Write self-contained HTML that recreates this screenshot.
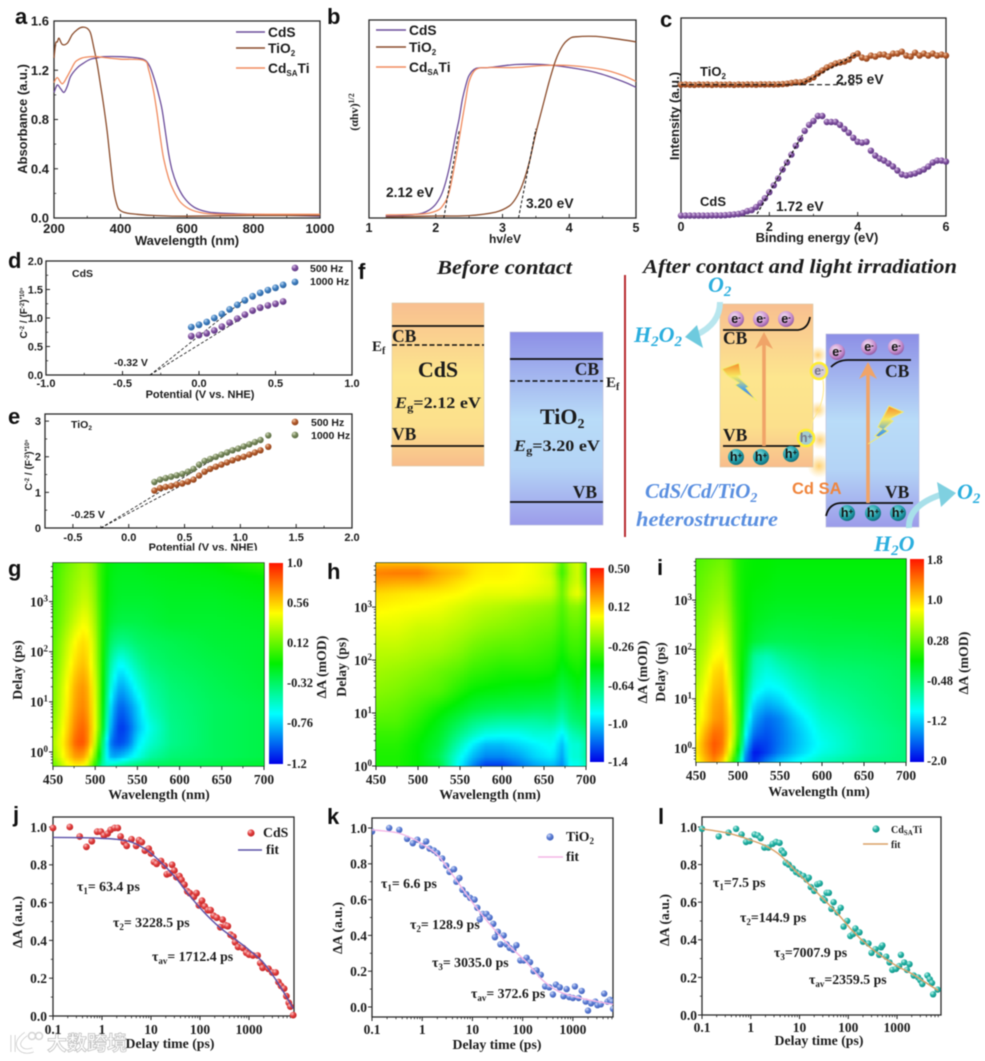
<!DOCTYPE html>
<html lang="en"><head><meta charset="utf-8"><title>Photocatalyst characterization figure</title>
<style>
html,body{margin:0;padding:0;background:#fff}
svg{display:block;filter:blur(.4px)}
text{fill:#1c1c1c}
.ss{font-family:"Liberation Sans",sans-serif;font-weight:700}
.sf{font-family:"Liberation Serif",serif;font-weight:700}
.pl{font-family:"Liberation Sans",sans-serif;font-weight:700;font-size:22px;fill:#111}
.t12{font-size:12px}.t13{font-size:13px}.sf.t13{font-size:13.8px}.t10{font-size:10px}.t9{font-size:10.5px}.t14{font-size:13.8px}
.wm{font-family:"Liberation Sans","Noto Sans CJK SC",sans-serif;font-size:20px;font-weight:700;fill:#fff;stroke:#b5b5b5;stroke-width:.8}
.it{font-family:"Liberation Serif",serif;font-weight:700;font-style:italic}
.blue{fill:#2aaede}
.ball{font-family:"Liberation Sans",sans-serif;font-weight:700;font-size:12.5px;fill:#111}
</style></head><body>
<svg id="fig" xmlns="http://www.w3.org/2000/svg" width="985" height="1061" viewBox="0 0 985 1061">
<defs>
<radialGradient id="sPurple" cx=".35" cy=".3" r=".8"><stop offset="0" stop-color="#d9c3e8"/><stop offset=".45" stop-color="#7f4f9e"/><stop offset="1" stop-color="#53307a"/></radialGradient>
<radialGradient id="sBlue" cx=".35" cy=".3" r=".8"><stop offset="0" stop-color="#bcd8f2"/><stop offset=".45" stop-color="#3f7fc0"/><stop offset="1" stop-color="#245a96"/></radialGradient>
<radialGradient id="sBrown" cx=".35" cy=".3" r=".8"><stop offset="0" stop-color="#f0c8a8"/><stop offset=".45" stop-color="#b4592a"/><stop offset="1" stop-color="#843d18"/></radialGradient>
<radialGradient id="sOlive" cx=".35" cy=".3" r=".8"><stop offset="0" stop-color="#d8e0c4"/><stop offset=".45" stop-color="#76875a"/><stop offset="1" stop-color="#52633c"/></radialGradient>
<radialGradient id="sRed" cx=".35" cy=".3" r=".8"><stop offset="0" stop-color="#f8c4c4"/><stop offset=".45" stop-color="#e23c3c"/><stop offset="1" stop-color="#b82222"/></radialGradient>
<radialGradient id="sIndigo" cx=".35" cy=".3" r=".8"><stop offset="0" stop-color="#d0daf6"/><stop offset=".45" stop-color="#5d7fd6"/><stop offset="1" stop-color="#3b59b2"/></radialGradient>
<radialGradient id="sTeal" cx=".35" cy=".3" r=".8"><stop offset="0" stop-color="#c4f2ea"/><stop offset=".45" stop-color="#22b3a5"/><stop offset="1" stop-color="#0f8a80"/></radialGradient>
<radialGradient id="eBall" cx=".4" cy=".35" r=".75"><stop offset="0" stop-color="#f6e6f6"/><stop offset=".6" stop-color="#c88fce"/><stop offset="1" stop-color="#7c4490"/></radialGradient>
<radialGradient id="hBall" cx=".4" cy=".35" r=".75"><stop offset="0" stop-color="#7fe0e0"/><stop offset=".6" stop-color="#1f9aa6"/><stop offset="1" stop-color="#0b5a68"/></radialGradient>
<radialGradient id="glow" cx=".5" cy=".5" r=".5"><stop offset="0" stop-color="#ffcf70"/><stop offset="1" stop-color="#ffdf90" stop-opacity="0"/></radialGradient>
<linearGradient id="cdsFill" x1="0" y1="0" x2="0" y2="1"><stop offset="0" stop-color="#f8bf90"/><stop offset=".45" stop-color="#fde68e"/><stop offset=".75" stop-color="#fce08c"/><stop offset="1" stop-color="#f8bd8c"/></linearGradient>
<linearGradient id="tioFill" x1="0" y1="0" x2="0" y2="1"><stop offset="0" stop-color="#8d8fe6"/><stop offset=".45" stop-color="#b9dcf8"/><stop offset=".7" stop-color="#b4d4f6"/><stop offset="1" stop-color="#9c9cea"/></linearGradient>
<linearGradient id="bolt" x1="0" y1="0" x2="0" y2="1"><stop offset="0" stop-color="#f58a2a"/><stop offset=".35" stop-color="#f8e860"/><stop offset=".7" stop-color="#4aa0e8"/><stop offset="1" stop-color="#7a60c8"/></linearGradient>
<linearGradient id="cbar" x1="0" y1="1" x2="0" y2="0"><stop offset="0" stop-color="#0000e8"/><stop offset=".25" stop-color="#00ffff"/><stop offset=".5" stop-color="#00f000"/><stop offset=".75" stop-color="#ffff00"/><stop offset="1" stop-color="#ff1500"/></linearGradient>
<filter id="heatBlur" filterUnits="userSpaceOnUse" x="0" y="540" width="985" height="250" color-interpolation-filters="sRGB"><feGaussianBlur stdDeviation="1.2 .8"/></filter>
<clipPath id="clipG"><rect x="53" y="563" width="211" height="203"/></clipPath>
<clipPath id="clipH"><rect x="376" y="563" width="210" height="203"/></clipPath>
<clipPath id="clipI"><rect x="696" y="559" width="210" height="203"/></clipPath>
<clipPath id="clipK"><rect x="372" y="818" width="241" height="199"/></clipPath>
</defs>

<!-- panel letters -->
<text class="pl" x="15" y="24">a</text>
<text class="pl" x="327" y="24">b</text>
<text class="pl" x="660" y="27">c</text>
<text class="pl" x="8" y="268">d</text>
<text class="pl" x="8" y="424">e</text>
<text class="pl" x="358" y="279">f</text>
<text class="pl" x="8" y="576">g</text>
<text class="pl" x="327" y="579">h</text>
<text class="pl" x="657" y="575">i</text>
<text class="pl" x="13" y="822">j</text>
<text class="pl" x="327" y="824">k</text>
<text class="pl" x="658" y="824">l</text>

<g opacity=".85">
<text class="wm" x="47" y="1050">大数跨境</text>
<path d="M13 1035V1052M26 1034Q15 1042 20 1048Q24 1053 33 1050" fill="none" stroke="#bbb" stroke-width="5"/>
<path d="M13 1035V1052M26 1034Q15 1042 20 1048Q24 1053 33 1050" fill="none" stroke="#fff" stroke-width="3.6"/>
<circle cx="32" cy="1036" r="3.5" fill="none" stroke="#ccc" stroke-width="1.5"/>
<circle cx="39" cy="1036" r="3.5" fill="none" stroke="#ccc" stroke-width="1.5"/>
</g>

<!-- axis titles a-c -->
<text class="ss t13" x="187" y="245" text-anchor="middle">Wavelength (nm)</text>
<text class="ss t13" transform="translate(27,119) rotate(-90)" text-anchor="middle">Absorbance (a.u.)</text>
<text class="ss t12" x="505" y="243" text-anchor="middle">hv/eV</text>
<text class="sf t12" transform="translate(358,112) rotate(-90)" text-anchor="middle">(αhv)<tspan dy="-4" font-size="8">1/2</tspan></text>
<text class="ss t13" x="817" y="242" text-anchor="middle">Binding energy (eV)</text>
<text class="ss t13" transform="translate(679,116) rotate(-90)" text-anchor="middle">Intensity (a.u.)</text>

<!-- annotations a-c -->
<g>
<line x1="236" x2="265" y1="32" y2="32" stroke="#6b4c9a" stroke-width="1.5"/>
<line x1="236" x2="265" y1="48" y2="48" stroke="#8a4b2a" stroke-width="1.5"/>
<line x1="236" x2="265" y1="68" y2="68" stroke="#f08a5d" stroke-width="1.5"/>
<text class="ss t14" x="268" y="37">CdS</text>
<text class="ss t14" x="268" y="53">TiO<tspan font-size="8" dy="3">2</tspan></text>
<text class="ss t14" x="268" y="73">Cd<tspan font-size="8" dy="3">SA</tspan><tspan dy="-3">Ti</tspan></text>
</g>
<g>
<line x1="376" x2="406" y1="30" y2="30" stroke="#6b4c9a" stroke-width="1.5"/>
<line x1="376" x2="406" y1="47" y2="47" stroke="#8a4b2a" stroke-width="1.5"/>
<line x1="376" x2="406" y1="67" y2="67" stroke="#f08a5d" stroke-width="1.5"/>
<text class="ss t14" x="409" y="35">CdS</text>
<text class="ss t14" x="409" y="52">TiO<tspan font-size="8" dy="3">2</tspan></text>
<text class="ss t14" x="409" y="72">Cd<tspan font-size="8" dy="3">SA</tspan><tspan dy="-3">Ti</tspan></text>
</g>
<text class="ss t14" x="386" y="197">2.12 eV</text>
<text class="ss t14" x="526" y="208">3.20 eV</text>
<text class="ss t13" x="700" y="76">TiO<tspan font-size="8" dy="3">2</tspan></text>
<text class="ss t14" x="836" y="84">2.85 eV</text>
<text class="ss t13" x="700" y="206">CdS</text>
<text class="ss t14" x="776" y="211">1.72 eV</text>

<!-- d / e titles and labels -->
<text class="ss t10" x="200" y="398" style="font-size:11px" text-anchor="middle">Potential (V vs. NHE)</text>
<text class="ss" font-size="10" transform="translate(27,313) rotate(-90)" text-anchor="middle">C<tspan font-size="6" dy="-3">-2</tspan><tspan dy="3"> / (F</tspan><tspan font-size="6" dy="-3">-2</tspan><tspan dy="3">)</tspan><tspan font-size="6" dy="-3">*10⁹</tspan></text>
<text class="ss t9" x="72" y="277">CdS</text>
<text class="ss t9" x="310" y="272">500 Hz</text>
<text class="ss t9" x="310" y="285">1000 Hz</text>
<text class="ss t10" x="114" y="366" style="font-size:10.5px">-0.32 V</text>
<text class="ss t10" x="203" y="551" style="font-size:11px" text-anchor="middle">Potential (V vs. NHE)</text>
<rect x="140" y="550.5" width="130" height="6" fill="#fff"/>
<text class="ss" font-size="10" transform="translate(32,465) rotate(-90)" text-anchor="middle">C<tspan font-size="6" dy="-3">-2</tspan><tspan dy="3"> / (F</tspan><tspan font-size="6" dy="-3">-2</tspan><tspan dy="3">)</tspan><tspan font-size="6" dy="-3">*10⁹</tspan></text>
<text class="ss t9" x="71" y="428">TiO<tspan font-size="6.5" dy="2">2</tspan></text>
<text class="ss t9" x="311" y="426">500 Hz</text>
<text class="ss t9" x="311" y="439">1000 Hz</text>
<text class="ss t10" x="71" y="518" style="font-size:10.5px">-0.25 V</text>

<!-- panel f -->
<g>
<text class="it" x="437" y="274" font-size="20" textLength="135" lengthAdjust="spacingAndGlyphs">Before contact</text>
<text class="it" x="643" y="273" font-size="20" textLength="314" lengthAdjust="spacingAndGlyphs">After contact and light irradiation</text>
<line x1="625" x2="625" y1="275" y2="537" stroke="#b72a2e" stroke-width="2"/>

<rect x="392" y="303" width="92" height="163" fill="url(#cdsFill)" stroke="#d8c9a8" stroke-width=".6"/>
<line x1="392" x2="484" y1="326" y2="326" stroke="#111" stroke-width="1.8"/>
<line x1="392" x2="484" y1="345" y2="345" stroke="#111" stroke-width="1.5" stroke-dasharray="5 2.5"/>
<line x1="391" x2="484" y1="446" y2="446" stroke="#111" stroke-width="1.8"/>
<text class="sf" font-size="17.5" x="392" y="342">CB</text>
<text class="sf" font-size="15" x="372" y="351">E<tspan font-size="10" dy="3">f</tspan></text>
<text class="sf" font-size="22" x="438" y="377" text-anchor="middle">CdS</text>
<text class="sf" font-size="16" x="395" y="408" textLength="86" lengthAdjust="spacingAndGlyphs"><tspan font-style="italic">E</tspan><tspan font-size="11" dy="3">g</tspan><tspan dy="-3">=2.12 eV</tspan></text>
<text class="sf" font-size="17.5" x="392" y="440">VB</text>

<rect x="510" y="332" width="93" height="193" fill="url(#tioFill)" stroke="#b9bbd8" stroke-width=".6"/>
<line x1="510" x2="603" y1="359" y2="359" stroke="#111" stroke-width="1.8"/>
<line x1="510" x2="603" y1="381" y2="381" stroke="#111" stroke-width="1.5" stroke-dasharray="5 2.5"/>
<line x1="510" x2="603" y1="502" y2="502" stroke="#111" stroke-width="1.8"/>
<text class="sf" font-size="17.5" x="599" y="375" text-anchor="end">CB</text>
<text class="sf" font-size="15" x="606" y="387">E<tspan font-size="10" dy="3">f</tspan></text>
<text class="sf" font-size="22" x="540" y="424">TiO<tspan font-size="14" dy="4">2</tspan></text>
<text class="sf" font-size="16" x="514" y="451" textLength="86" lengthAdjust="spacingAndGlyphs"><tspan font-style="italic">E</tspan><tspan font-size="11" dy="3">g</tspan><tspan dy="-3">=3.20 eV</tspan></text>
<text class="sf" font-size="17.5" x="597" y="498" text-anchor="end">VB</text>

<!-- after contact -->
<circle cx="818" cy="355" r="9" fill="url(#glow)"/>
<circle cx="818" cy="410" r="9" fill="url(#glow)"/>
<circle cx="820" cy="440" r="10" fill="url(#glow)"/>
<circle cx="819" cy="466" r="12" fill="url(#glow)"/>
<rect x="720" y="304" width="93" height="163" fill="url(#cdsFill)" stroke="#d8c9a8" stroke-width=".6"/>
<rect x="826" y="334" width="93" height="193" fill="url(#tioFill)" stroke="#b9bbd8" stroke-width=".6"/>
<path d="M823 380Q826 400 813 420Q810 428 811 432" fill="none" stroke="#ffe98a" stroke-width="1"/>
<path d="M723 330H798Q808 329 810 317" fill="none" stroke="#111" stroke-width="1.8"/>
<line x1="723" x2="800" y1="446" y2="446" stroke="#111" stroke-width="1.8"/>
<path d="M831 367Q838 360 848 360H911" fill="none" stroke="#111" stroke-width="1.8"/>
<path d="M826 516Q829 503 842 503H913" fill="none" stroke="#111" stroke-width="1.8"/>
<path d="M764 446V342" stroke="#f0a468" stroke-width="3.6" fill="none"/>
<polygon points="764,332 755,349 764,344 773,349" fill="#f0a468"/>
<path d="M868 503V372" stroke="#f0a468" stroke-width="3.6" fill="none"/>
<polygon points="868,362 859,379 868,374 877,379" fill="#f0a468"/>
<polygon points="722,369 739,363 741,375 737,376 749,387 746,388 757,401 735,385 739,383 727,375" fill="url(#bolt)" stroke="#f3ec70" stroke-width="1"/>
<polygon points="903,412 889,406 878,427 882,429 875,436 879,437 868,444 888,431 884,429 893,421 889,419" fill="url(#bolt)" stroke="#f3ec70" stroke-width="1"/>
<text class="sf" font-size="17.5" x="723" y="344">CB</text>
<text class="sf" font-size="17.5" x="723" y="441">VB</text>
<text class="sf" font-size="17.5" x="885" y="377">CB</text>
<text class="sf" font-size="17.5" x="885" y="498">VB</text>
<g text-anchor="middle">
<circle cx="736" cy="319" r="8" fill="url(#eBall)"/><text class="ball" x="736" y="323">e<tspan font-size="8" dy="-3">-</tspan></text>
<circle cx="761" cy="319" r="8" fill="url(#eBall)"/><text class="ball" x="761" y="323">e<tspan font-size="8" dy="-3">-</tspan></text>
<circle cx="786" cy="319" r="8" fill="url(#eBall)"/><text class="ball" x="786" y="323">e<tspan font-size="8" dy="-3">-</tspan></text>
<circle cx="837" cy="352" r="8" fill="url(#eBall)"/><text class="ball" x="837" y="356">e<tspan font-size="8" dy="-3">-</tspan></text>
<circle cx="869" cy="347" r="8" fill="url(#eBall)"/><text class="ball" x="869" y="351">e<tspan font-size="8" dy="-3">-</tspan></text>
<circle cx="896" cy="347" r="8" fill="url(#eBall)"/><text class="ball" x="896" y="351">e<tspan font-size="8" dy="-3">-</tspan></text>
<circle cx="819" cy="371" r="8" fill="#d6ccd8" stroke="#ffee33" stroke-width="2.6"/><text class="ball" x="819" y="375" style="fill:#778">e<tspan font-size="8" dy="-3">-</tspan></text>
<circle cx="736" cy="457" r="8" fill="url(#hBall)"/><text class="ball" x="736" y="461">h<tspan font-size="8" dy="-3">+</tspan></text>
<circle cx="761" cy="457" r="8" fill="url(#hBall)"/><text class="ball" x="761" y="461">h<tspan font-size="8" dy="-3">+</tspan></text>
<circle cx="791" cy="454" r="8" fill="url(#hBall)"/><text class="ball" x="791" y="458">h<tspan font-size="8" dy="-3">+</tspan></text>
<circle cx="847" cy="513" r="8" fill="url(#hBall)"/><text class="ball" x="847" y="517">h<tspan font-size="8" dy="-3">+</tspan></text>
<circle cx="873" cy="513" r="8" fill="url(#hBall)"/><text class="ball" x="873" y="517">h<tspan font-size="8" dy="-3">+</tspan></text>
<circle cx="898" cy="513" r="8" fill="url(#hBall)"/><text class="ball" x="898" y="517">h<tspan font-size="8" dy="-3">+</tspan></text>
<circle cx="806" cy="438" r="8" fill="#a4cdd0" stroke="#ffee33" stroke-width="2.6"/><text class="ball" x="806" y="442" style="fill:#778">h<tspan font-size="8" dy="-3">+</tspan></text>
</g>
<path d="M720 302Q720 324 696 335" fill="none" stroke="#b8e6ee" stroke-width="6"/>
<polygon points="685,337 697,325 703,348" fill="#6ecade"/>
<path d="M909 528Q908 506 940 495" fill="none" stroke="#a8e0ea" stroke-width="6"/>
<polygon points="956,493 937,482 941,507" fill="#7fd0e0"/>
<text class="it blue" font-size="22" x="708" y="292">O<tspan font-size="15" dy="4">2</tspan></text>
<text class="it blue" font-size="22" x="634" y="342">H<tspan font-size="15" dy="4">2</tspan><tspan dy="-4">O</tspan><tspan font-size="15" dy="4">2</tspan></text>
<text class="it blue" font-size="22" x="957" y="499">O<tspan font-size="15" dy="4">2</tspan></text>
<text class="it blue" font-size="22" x="874" y="551">H<tspan font-size="15" dy="4">2</tspan><tspan dy="-4">O</tspan></text>
<text class="it" style="fill:#5a8fe0" font-size="21" x="645" y="498">CdS/Cd/TiO<tspan font-size="14" dy="4">2</tspan></text>
<text class="it" style="fill:#5a8fe0" font-size="21" x="636" y="526" textLength="142" lengthAdjust="spacingAndGlyphs">heterostructure</text>
<text class="ss" style="fill:#f0853c" font-size="16.5" x="792" y="494">Cd SA</text>
</g>

<!-- heatmap titles -->
<text class="sf t13" x="159" y="799" text-anchor="middle">Wavelength (nm)</text>
<text class="sf t13" transform="translate(22,670) rotate(-90)" text-anchor="middle">Delay (ps)</text>
<text class="sf t13" transform="translate(326,667) rotate(-90)" text-anchor="middle">ΔA (mOD)</text>
<text class="sf t13" x="490" y="799" text-anchor="middle">Wavelength (nm)</text>
<text class="sf t13" transform="translate(346,667) rotate(-90)" text-anchor="middle">Delay (ps)</text>
<text class="sf t13" transform="translate(647,672) rotate(-90)" text-anchor="middle">ΔA (mOD)</text>
<text class="sf t13" x="819" y="796" text-anchor="middle">Wavelength (nm)</text>
<text class="sf t13" transform="translate(665,672) rotate(-90)" text-anchor="middle">Delay (ps)</text>
<text class="sf t13" transform="translate(968,663) rotate(-90)" text-anchor="middle">ΔA (mOD)</text>

<!-- decay annotations -->
<text class="sf t13" x="170" y="1048" text-anchor="middle">Delay time (ps)</text>
<text class="sf t13" transform="translate(22,922) rotate(-90)" text-anchor="middle">ΔA (a.u.)</text>
<text class="sf t13" x="77" y="891">τ<tspan font-size="9" dy="3">1</tspan><tspan dy="-3">= 63.4 ps</tspan></text>
<text class="sf t13" x="113" y="927">τ<tspan font-size="9" dy="3">2</tspan><tspan dy="-3">= 3228.5 ps</tspan></text>
<text class="sf t13" x="152" y="961">τ<tspan font-size="9" dy="3">av</tspan><tspan dy="-3">= 1712.4 ps</tspan></text>
<text class="sf t13" x="263" y="837">CdS</text>
<line x1="238" x2="262" y1="850" y2="850" stroke="#5a50a8" stroke-width="1.5"/>
<text class="sf t13" x="266" y="854">fit</text>

<text class="sf t13" x="497" y="1049" text-anchor="middle">Delay time (ps)</text>
<text class="sf t13" transform="translate(342,928) rotate(-90)" text-anchor="middle">ΔA (a.u.)</text>
<text class="sf t13" x="381" y="888">τ<tspan font-size="9" dy="3">1</tspan><tspan dy="-3">= 6.6 ps</tspan></text>
<text class="sf t13" x="410" y="929">τ<tspan font-size="9" dy="3">2</tspan><tspan dy="-3">= 128.9 ps</tspan></text>
<text class="sf t13" x="432" y="967">τ<tspan font-size="9" dy="3">3</tspan><tspan dy="-3">= 3035.0 ps</tspan></text>
<text class="sf t13" x="471" y="998">τ<tspan font-size="9" dy="3">av</tspan><tspan dy="-3">= 372.6 ps</tspan></text>
<text class="sf t13" x="566" y="841">TiO<tspan font-size="9" dy="3">2</tspan></text>
<line x1="538" x2="563" y1="857" y2="857" stroke="#f4b6e6" stroke-width="1.5"/>
<text class="sf t13" x="566" y="861">fit</text>

<text class="sf t13" x="819" y="1045" text-anchor="middle">Delay time (ps)</text>
<text class="sf t13" transform="translate(669,920) rotate(-90)" text-anchor="middle">ΔA (a.u.)</text>
<text class="sf t13" x="713" y="887">τ<tspan font-size="9" dy="3">1</tspan><tspan dy="-3">=7.5 ps</tspan></text>
<text class="sf t13" x="740" y="922">τ<tspan font-size="9" dy="3">2</tspan><tspan dy="-3">=144.9 ps</tspan></text>
<text class="sf t13" x="774" y="957">τ<tspan font-size="9" dy="3">3</tspan><tspan dy="-3">=7007.9 ps</tspan></text>
<text class="sf t13" x="809" y="984">τ<tspan font-size="9" dy="3">av</tspan><tspan dy="-3">=2359.5 ps</tspan></text>
<text class="sf t10" x="891" y="833">Cd<tspan font-size="7" dy="2">SA</tspan><tspan dy="-2">Ti</tspan></text>
<line x1="863" x2="888" y1="844" y2="844" stroke="#d9a066" stroke-width="1.5"/>
<text class="sf t10" x="891" y="848">fit</text>

<g id="dynamic"></g>
</svg>

<script>
/* ---------- panel a data ---------- */
const aXTicks=[200,400,600,800,1000];
const aYTicks=[0,0.4,0.8,1.2,1.6];
const aYLabels=['0.0','0.4','0.8','1.2','1.6'];
const aCdsX=[200,210,220,230,240,250,270,290,310,330,350,400,450,475,490,505,515,525,535,545,555,570,590,620,660,700,800,1000];
const aCdsY=[1.02,1.08,1.05,1.02,1.07,1.15,1.22,1.26,1.29,1.3,1.31,1.31,1.3,1.28,1.22,1.1,1.0,.88,.7,.52,.39,.27,.17,.09,.05,.04,.03,.015];
const aTioX=[200,205,210,215,225,240,255,270,285,300,310,320,330,340,350,360,370,380,390,400,420,450,500,600,800,1000];
const aTioY=[1.3,1.42,1.43,1.46,1.41,1.42,1.49,1.53,1.55,1.54,1.5,1.38,1.25,1.08,.9,.7,.45,.22,.1,.06,.04,.03,.02,.015,.02,.02];
const aCdX=[200,210,225,240,250,265,285,310,330,360,400,470,485,500,510,520,530,545,560,580,610,650,700,800,1000];
const aCdY=[1.1,1.14,1.09,1.15,1.2,1.27,1.3,1.31,1.31,1.3,1.29,1.28,1.2,1.02,.85,.65,.48,.32,.22,.13,.07,.04,.03,.03,.03];

/* ---------- panel b data ---------- */
const bXTicks=[1,2,3,4,5];
const bCdsX=[1.25,1.6,1.8,1.9,2,2.1,2.2,2.3,2.35,2.4,2.45,2.5,2.6,2.8,3.2,3.6,4,4.4,4.8,5];
const bCdsY=[.01,.015,.025,.04,.07,.13,.25,.42,.5,.6,.67,.72,.755,.76,.775,.775,.76,.735,.69,.66];
const bCdX=[1.25,1.8,2,2.1,2.2,2.3,2.4,2.45,2.5,2.6,2.8,3.2,3.6,4,4.5,4.8,5];
const bCdY=[.015,.02,.035,.06,.13,.3,.5,.6,.69,.75,.76,.76,.77,.77,.75,.72,.69];
const bTioX=[1.25,2,2.5,2.9,3.1,3.2,3.3,3.4,3.5,3.6,3.7,3.8,3.9,4,4.1,4.4,4.7,5];
const bTioY=[.005,.01,.012,.03,.06,.1,.17,.28,.43,.56,.69,.8,.87,.905,.915,.917,.905,.89];
const bTangentCdsX=[2.12,2.35];
const bTangentCdsY=[0,.44];
const bTangentTioX=[3.24,3.5];
const bTangentTioY=[0,.45];

/* ---------- panel c data ---------- */
const cXTicks=[0,2,4,6];
const cEnergy=[0,.1,.2,.3,.4,.5,.6,.7,.8,.9,1,1.1,1.2,1.3,1.4,1.5,1.6,1.7,1.8,1.9,2,2.1,2.2,2.3,2.4,2.5,2.6,2.7,2.8,2.9,3,3.1,3.2,3.3,3.4,3.5,3.6,3.7,3.8,3.9,4,4.1,4.2,4.3,4.4,4.5,4.6,4.7,4.8,4.9,5,5.1,5.2,5.3,5.4,5.5,5.6,5.7,5.8,5.9,6];
const cTio=[.663,.664,.663,.662,.664,.663,.664,.662,.664,.663,.663,.664,.662,.664,.663,.664,.664,.663,.665,.664,.665,.664,.665,.666,.668,.672,.676,.675,.68,.69,.70,.72,.735,.75,.76,.77,.775,.78,.79,.81,.82,.80,.795,.81,.805,.815,.815,.805,.82,.82,.83,.81,.805,.825,.81,.82,.81,.82,.81,.815,.81];
const cCds=[.002,.002,.002,.002,.002,.002,.002,.003,.003,.003,.004,.006,.008,.01,.015,.025,.03,.045,.065,.09,.12,.155,.19,.235,.27,.31,.355,.39,.43,.46,.48,.505,.505,.475,.475,.475,.46,.44,.42,.395,.375,.37,.375,.33,.305,.29,.28,.265,.25,.23,.21,.205,.21,.215,.225,.235,.25,.27,.28,.28,.275];
const cTangentTioX=[2.7,4];
const cTangentTioY=[.665,.82];
const cBaselineX=[0,4];
const cBaselineY=[.663,.663];
const cTangentCdsX=[1.72,2.75];
const cTangentCdsY=[.01,.41];

/* ---------- panel d data ---------- */
const dXTicks=[-1,-.5,0,.5,1];
const dXLabels=['-1.0','-0.5','0.0','0.5','1.0'];
const dYTicks=[0,.5,1,1.5,2];
const dYLabels=['0.0','0.5','1.0','1.5','2.0'];
const dPotential=[-.05,0,.05,.1,.15,.2,.25,.3,.35,.4,.45,.5,.55];
const d500=[.68,.70,.73,.78,.85,.92,.99,1.06,1.13,1.18,1.22,1.25,1.29];
const d1000=[.84,.88,.93,1.0,1.07,1.15,1.23,1.31,1.38,1.44,1.49,1.53,1.58];
const dFitX=[-.32,.3];
const dFit500=[0,1.03];
const dFit1000=[0,1.33];

/* ---------- panel e data ---------- */
const eXTicks=[-.5,0,.5,1,1.5,2];
const eXLabels=['-0.5','0.0','0.5','1.0','1.5','2.0'];
const eYTicks=[0,1,2,3];
const ePotential=[.23,.28,.33,.38,.43,.48,.53,.58,.63,.68,.73,.78,.83,.88,.93,.98,1.03,1.08,1.13,1.18,1.25];
const e500=[1.05,1.12,1.15,1.18,1.22,1.25,1.3,1.36,1.47,1.58,1.66,1.72,1.78,1.84,1.9,1.96,2.0,2.06,2.12,2.18,2.28];
const e1000=[1.29,1.36,1.4,1.44,1.48,1.52,1.58,1.66,1.78,1.88,1.94,2.0,2.06,2.12,2.18,2.23,2.29,2.35,2.41,2.47,2.6];
const eFitX=[-.25,.9];
const eFit500=[0,1.9];
const eFit1000=[0,2.2];

/* ---------- heatmap data (ΔA, mOD) ---------- */
const heatXTicks=[450,500,550,600,650,700];
const heatYTicks=[1,10,100,1000];
const heatYLabels=['10^0','10^1','10^2','10^3'];

const gWave=[450,465,478,488,498,505,512,520,530,540,550,565,590,640,700];
const gDelay=[.55,.8,1.5,3,8,20,60,150,400,1000,3000,6000];
const gValues=[
[.1,.4,.5,.45,.1,-.3,-.55,-.5,-.45,-.4,-.35,-.3,-.28,-.25,-.2],
[.2,.5,.7,.65,.25,-.15,-.6,-.85,-.8,-.7,-.6,-.45,-.35,-.3,-.25],
[.25,.55,.85,.85,.45,0,-.6,-1.0,-1.05,-.95,-.7,-.55,-.4,-.3,-.25],
[.2,.5,.78,.82,.5,.15,-.4,-.9,-1.1,-1.0,-.8,-.6,-.4,-.3,-.25],
[.15,.45,.7,.74,.48,.15,-.3,-.8,-1.0,-.9,-.75,-.5,-.38,-.3,-.25],
[.15,.42,.66,.7,.45,.15,-.25,-.65,-.85,-.75,-.6,-.45,-.35,-.28,-.22],
[.1,.35,.55,.6,.38,.12,-.2,-.5,-.65,-.55,-.45,-.35,-.3,-.25,-.2],
[.08,.3,.48,.54,.36,.1,-.15,-.35,-.4,-.38,-.33,-.3,-.27,-.22,-.2],
[.05,.22,.36,.44,.3,.08,-.12,-.22,-.25,-.25,-.25,-.23,-.2,-.2,-.18],
[.03,.18,.28,.35,.25,.05,-.1,-.17,-.2,-.2,-.2,-.2,-.18,-.18,-.15],
[.02,.15,.23,.28,.2,.03,-.08,-.15,-.17,-.17,-.17,-.16,-.15,-.14,-.1],
[0,.12,.2,.25,.18,.02,-.07,-.13,-.15,-.15,-.15,-.13,-.13,-.1,0]];
const gBarLabels=['1.0','0.56','0.12','-0.32','-0.76','-1.2'];

const hWave=[450,475,500,525,550,565,580,600,620,640,660,672,682,692,700];
const hDelay=[1,1.5,2.5,4,7,12,25,60,150,400,1000,1800,3000,4500,7000];
const hValues=[
[-.4,-.4,-.45,-.55,-.95,-1.15,-1.3,-1.3,-1.2,-1.1,-1.05,-1.15,-.9,-.9,-.8],
[-.4,-.4,-.45,-.6,-.9,-1.05,-1.15,-1.15,-1.1,-1,-.95,-1.1,-.85,-.85,-.75],
[-.38,-.38,-.45,-.55,-.8,-.95,-1.05,-1.05,-1.0,-.95,-.9,-1.05,-.85,-.85,-.75],
[-.35,-.35,-.42,-.52,-.7,-.8,-.88,-.9,-.9,-.85,-.85,-.95,-.8,-.75,-.7],
[-.3,-.3,-.38,-.48,-.6,-.68,-.72,-.75,-.75,-.75,-.72,-.8,-.68,-.65,-.6],
[-.25,-.27,-.33,-.42,-.5,-.55,-.58,-.6,-.6,-.62,-.62,-.7,-.62,-.58,-.6],
[-.2,-.22,-.27,-.3,-.4,-.45,-.47,-.48,-.5,-.5,-.52,-.6,-.55,-.5,-.55],
[-.15,-.17,-.2,-.25,-.3,-.35,-.37,-.4,-.4,-.4,-.42,-.5,-.45,-.42,-.48],
[-.1,-.1,-.13,-.15,-.2,-.25,-.28,-.3,-.3,-.32,-.35,-.42,-.35,-.35,-.4],
[-.03,-.03,-.07,-.08,-.12,-.15,-.18,-.2,-.22,-.25,-.27,-.35,-.28,-.28,-.35],
[.05,.03,.02,0,-.05,-.08,-.1,-.12,-.15,-.17,-.2,-.3,-.2,-.2,-.3],
[.1,.08,.06,.05,.03,0,-.02,-.02,-.02,-.05,-.08,-.25,-.05,0,-.2],
[.22,.2,.2,.15,.08,.05,.03,.03,.02,0,-.05,-.28,-.1,-.05,-.3],
[.28,.3,.3,.2,.15,.08,.05,.05,.03,0,-.08,-.35,-.12,-.05,-.35],
[.15,.15,.15,.12,.1,.08,.06,.05,.03,0,-.05,-.3,-.1,-.05,-.3]];
const hBarLabels=['0.50','0.12','-0.26','-0.64','-1.0','-1.4'];

const iWave=[450,462,472,482,490,497,503,510,520,535,550,570,600,650,700];
const iDelay=[.55,.8,1.2,2,4,8,16,35,70,150,400,1000,3000,6500];
const iValues=[
[.8,1.15,1.35,1.05,.5,-.1,-.8,-1.6,-1.85,-1.5,-1.25,-1.05,-.8,-.6,-.55],
[.9,1.25,1.5,1.3,.75,.15,-.55,-1.5,-1.95,-1.75,-1.5,-1.25,-.95,-.7,-.55],
[.9,1.3,1.55,1.4,.9,.35,-.3,-1.3,-1.8,-1.75,-1.55,-1.3,-1.0,-.7,-.55],
[.8,1.2,1.45,1.4,1.0,.45,-.15,-1.1,-1.6,-1.7,-1.55,-1.3,-.95,-.7,-.55],
[.7,1.0,1.25,1.3,1.0,.4,0,-.85,-1.4,-1.6,-1.5,-1.2,-.85,-.65,-.5],
[.65,.95,1.2,1.25,.9,.35,0,-.65,-1.2,-1.35,-1.25,-1.0,-.75,-.6,-.48],
[.6,.85,1.1,1.15,.8,.3,0,-.5,-.95,-1.1,-1.05,-.85,-.65,-.55,-.45],
[.5,.75,1.0,1.05,.7,.25,0,-.35,-.8,-.95,-.85,-.7,-.55,-.5,-.42],
[.45,.65,.85,.9,.62,.2,0,-.25,-.7,-.8,-.65,-.55,-.45,-.42,-.38],
[.4,.55,.72,.8,.55,.18,0,-.15,-.3,-.38,-.4,-.38,-.35,-.35,-.3],
[.35,.45,.58,.62,.45,.15,0,-.1,-.2,-.25,-.28,-.28,-.27,-.25,-.25],
[.28,.38,.45,.5,.35,.1,-.02,-.1,-.15,-.18,-.2,-.2,-.2,-.2,-.2],
[.22,.3,.36,.4,.28,.08,-.03,-.08,-.1,-.12,-.15,-.15,-.15,-.15,-.15],
[.18,.24,.28,.32,.24,.05,-.03,-.07,-.1,-.1,-.12,-.12,-.12,-.12,-.12]];
const iBarLabels=['1.8','1.0','0.28','-0.48','-1.2','-2.0'];

/* ---------- decay data ---------- */
const decayXTicks=[.1,1,10,100,1000];
const decayXLabels=['0.1','1','10','100','1000'];
const decayYTicks=[0,.2,.4,.6,.8,1];
const decayYLabels=['0.0','0.2','0.4','0.6','0.8','1.0'];

const jTime=[.1,.22,.35,.48,.62,.8,.95,1.1,1.3,1.5,1.8,2.1,2.4,2.8,3.2,4,5,5.7,6.5,7.5,9,10,11.5,13,16,19,21,24,27,30,33,38,42,48,55,62,75,85,95,110,125,145,165,190,220,260,290,330,370,420,480,520,600,750,880,1000,1200,1500,1700,1900,2500,3000,3500,4000,4500,5200,5800,6500,7000,8000];
const jSignal=[.995,1,.95,.895,.925,.975,.975,.955,.965,.985,.995,.995,.95,.92,.9,.935,.9,.93,.92,.875,.885,.86,.815,.805,.82,.795,.75,.755,.8,.77,.735,.74,.72,.695,.66,.65,.63,.65,.585,.61,.58,.56,.56,.53,.52,.47,.51,.48,.475,.43,.42,.39,.365,.36,.335,.325,.32,.32,.28,.255,.25,.23,.23,.18,.16,.145,.105,.07,.05,.005];
const jFitTime=[.1,.5,1,2,4,8,15,30,60,120,250,500,1000,2000,4000,8000];
const jFit=[.945,.943,.94,.935,.92,.88,.82,.74,.64,.55,.47,.41,.35,.28,.17,.04];

const kTime=[.1,.22,.35,.5,.65,.8,1,1.2,1.4,1.7,2,2.5,3,3.5,4.3,4.8,5.5,6.3,7.5,9,11,12.5,14,16,19,22,26,28,32,36,42,48,55,65,75,90,105,120,140,165,190,230,280,340,400,460,550,650,750,850,1000,1100,1300,1500,1800,2000,2300,2800,3100,3600,4200,4900,5500,6000,6300];
const kSignal=[.98,1,.99,.94,.915,.935,.9,.925,.885,.875,.86,.83,.79,.755,.77,.7,.72,.655,.63,.61,.6,.555,.49,.52,.52,.5,.465,.39,.42,.35,.4,.35,.33,.32,.345,.26,.26,.275,.25,.2,.205,.18,.115,.11,.07,.125,.11,.06,.1,.055,.05,.115,.05,.09,.03,-.02,.02,.03,.01,.015,.075,.03,.04,.03,-.01];
const kFitTime=[.1,.3,.6,1,2,4,8,15,30,60,120,250,500,1000,2500,6300];
const kFit=[.99,.975,.945,.91,.85,.74,.62,.52,.42,.33,.25,.15,.09,.06,.035,.015];

const lTime=[.1,.22,.35,.5,.65,.8,.95,1.2,1.4,1.6,1.9,2.3,2.8,3.3,3.9,4.3,4.8,5.2,6,7.2,8.5,10,12,14,15.5,17,20,23,26,30,33,36,40,45,50,60,70,80,95,110,125,140,170,200,260,300,360,430,470,500,600,700,800,950,1100,1200,1400,1600,1800,2200,2700,3000,3300,4200,4700,5200,5500,6800];
const lSignal=[.99,.95,.97,.99,.96,.92,.925,.96,.955,.94,.89,.89,.91,.92,.915,.875,.86,.81,.8,.78,.76,.75,.74,.72,.73,.68,.66,.695,.7,.62,.61,.65,.65,.565,.6,.545,.57,.47,.5,.42,.43,.46,.44,.39,.38,.33,.35,.32,.36,.37,.31,.28,.24,.245,.26,.32,.28,.24,.27,.21,.2,.185,.165,.21,.19,.17,.11,.135];
const lFitTime=[.1,.3,.6,1,2,4,8,15,30,60,120,250,500,1000,2000,4000,7000];
const lFit=[.99,.97,.95,.93,.9,.85,.77,.7,.62,.54,.45,.37,.31,.26,.22,.17,.13];

/* ---------- drawing helpers ---------- */
const NS='http://www.w3.org/2000/svg';
const layer=document.getElementById('dynamic');
function mk(tag,attrs,name,parent){
  const el=document.createElementNS(NS,tag);
  for(const k in attrs)el.setAttribute(k,attrs[k]);
  
  
  (parent||layer).appendChild(el);
  return el;
}
function scale(d0,d1,r0,r1,isLog){
  const f=isLog?Math.log10:(v=>v);
  const a=f(d0),b=f(d1);
  return v=>r0+(f(v)-a)/(b-a)*(r1-r0);
}
function fmtLabel(el,label){
  if(label.includes('^')){
    const p=label.split('^');
    el.textContent=p[0];
    const s=mk('tspan',{dy:-5,'font-size':9},'tick-exponent',el);
    s.textContent=p[1];
  }else el.textContent=label;
}
function axes(c){
  const g=mk('g',{},c.id+'-axes');
  const sx=scale(c.xd[0],c.xd[1],c.box.l,c.box.r,c.xlog);
  const sy=scale(c.yd[0],c.yd[1],c.box.b,c.box.t,c.ylog);
  const dir=c.tickDir;
  c.xt.forEach((t,i)=>{
    mk('line',{x1:sx(t),x2:sx(t),y1:c.box.b,y2:c.box.b+dir*4,stroke:'#222','stroke-width':1},c.id+'-x-tick',g);
    const e=mk('text',{x:sx(t),y:c.xBase,'text-anchor':'middle',class:c.cls,'font-size':c.fs},c.id+'-x-tick-label',g);
    fmtLabel(e,c.xl?c.xl[i]:String(t));
  });
  c.yt.forEach((t,i)=>{
    mk('line',{x1:c.box.l,x2:c.box.l-dir*4,y1:sy(t),y2:sy(t),stroke:'#222','stroke-width':1},c.id+'-y-tick',g);
    const e=mk('text',{x:c.yRight,y:sy(t)+c.fs*.36,'text-anchor':'end',class:c.cls,'font-size':c.fs},c.id+'-y-tick-label',g);
    fmtLabel(e,c.yl?c.yl[i]:String(t));
  });
  const minor=(ts,log,dmin,dmax)=>{
    const out=[];
    if(log){
      const lo=Math.floor(Math.log10(dmin)),hi=Math.ceil(Math.log10(dmax));
      for(let p=lo;p<hi;p++)for(let m=2;m<=9;m++){const v=m*Math.pow(10,p);if(v>=dmin&&v<=dmax)out.push(v);}
    }else for(let i=0;i<ts.length-1;i++)out.push((ts[i]+ts[i+1])/2);
    return out;
  };
  minor(c.xt,c.xlog,c.xd[0],c.xd[1]).forEach(t=>{
    mk('line',{x1:sx(t),x2:sx(t),y1:c.box.b,y2:c.box.b+dir*2.2,stroke:'#222','stroke-width':.8},c.id+'-x-minor-tick',g);
  });
  minor(c.yt,c.ylog,c.yd[0],c.yd[1]).forEach(t=>{
    mk('line',{x1:c.box.l,x2:c.box.l-dir*2.2,y1:sy(t),y2:sy(t),stroke:'#222','stroke-width':.8},c.id+'-y-minor-tick',g);
  });
  return {sx,sy,frame:()=>{
    mk('rect',{x:c.box.l,y:c.box.t,width:c.box.r-c.box.l,height:c.box.b-c.box.t,fill:'none',stroke:c.frame||'#2a2a2a','stroke-width':1.3},c.id+'-plot-frame',g);
  }};
}
function pathFrom(xs,ys,ax){
  return xs.map((x,i)=>(i?'L':'M')+ax.sx(x).toFixed(1)+' '+ax.sy(ys[i]).toFixed(1)).join('');
}
function smoothFrom(xs,ys,ax){
  const p=xs.map((x,i)=>[ax.sx(x),ax.sy(ys[i])]);
  let d='M'+p[0][0].toFixed(1)+' '+p[0][1].toFixed(1);
  for(let i=0;i<p.length-1;i++){
    const a=p[Math.max(i-1,0)],b=p[i],c=p[i+1],e=p[Math.min(i+2,p.length-1)];
    d+='C'+(b[0]+(c[0]-a[0])/6).toFixed(1)+' '+(b[1]+(c[1]-a[1])/6).toFixed(1)+' '+(c[0]-(e[0]-b[0])/6).toFixed(1)+' '+(c[1]-(e[1]-b[1])/6).toFixed(1)+' '+c[0].toFixed(1)+' '+c[1].toFixed(1);
  }
  return d;
}
function line(xs,ys,ax,stroke,width,name,smooth){
  mk('path',{d:(smooth?smoothFrom:pathFrom)(xs,ys,ax),fill:'none',stroke:stroke,'stroke-width':width,'stroke-linejoin':'round'},name);
}
function dashed(xs,ys,ax,name,w){
  mk('path',{d:pathFrom(xs,ys,ax),fill:'none',stroke:'#111','stroke-width':w||1,'stroke-dasharray':'3 2'},name);
}
function dots(xs,ys,ax,fill,r,name,parent){
  const g=mk('g',{},name,parent);
  xs.forEach((x,i)=>{
    mk('circle',{cx:ax.sx(x).toFixed(1),cy:ax.sy(ys[i]).toFixed(1),r:r,fill:fill},name+'-point',g);
  });
}
function rgbFor(t){
  t=Math.max(0,Math.min(1,t));
  const stops=[[0,0,232],[0,255,255],[0,240,0],[255,255,0],[255,21,0]];
  const s=t*4,i=Math.min(3,Math.floor(s)),f=s-i;
  const a=stops[i],b=stops[i+1];
  return 'rgb('+a.map((v,k)=>Math.round(v+(b[k]-v)*f)).join(',')+')';
}
function bracket(centers,p){
  // centers may ascend or descend in pixel space; returns lower index and blend weight
  const n=centers.length;
  const sign=centers[n-1]>centers[0]?1:-1;
  if(sign*(p-centers[0])<=0)return [0,0];
  for(let i=0;i<n-1;i++){
    if(sign*(p-centers[i+1])<=0)return [i,(p-centers[i])/(centers[i+1]-centers[i])];
  }
  return [n-2,1];
}
function heatmap(id,wave,delay,values,vmin,vmax,clipId,ax,box){
  const clip=mk('g',{'clip-path':'url(#'+clipId+')'},id+'-heatmap-clip');
  const g=mk('g',{filter:'url(#heatBlur)'},id+'-heatmap',clip);
  const cx=wave.map(ax.sx);
  const cy=delay.map(ax.sy);
  const stepX=4,stepY=3;
  for(let py=box.t-3;py<box.b+3;py+=stepY){
    const [r,fr]=bracket(cy,py+stepY/2);
    for(let px=box.l-4;px<box.r+4;px+=stepX){
      const [c,fc]=bracket(cx,px+stepX/2);
      const top=values[r][c]*(1-fc)+values[r][c+1]*fc;
      const bot=values[r+1][c]*(1-fc)+values[r+1][c+1]*fc;
      const v=top*(1-fr)+bot*fr;
      mk('rect',{x:px,y:py,width:stepX+.5,height:stepY+.5,fill:rgbFor((v-vmin)/(vmax-vmin))},id+'-heatmap-cell',g);
    }
  }
}
function colorbar(id,b,labels,labelX,yCenters){
  const g=mk('g',{},id+'-colorbar');
  mk('rect',{x:b.l,y:b.t,width:b.r-b.l,height:b.b-b.t,fill:'url(#cbar)'},id+'-colorbar-ramp',g);
  labels.forEach((t,i)=>{
    const e=mk('text',{x:labelX,y:yCenters[i]+4,class:'sf','font-size':12.5},id+'-colorbar-label',g);
    e.textContent=t;
  });
}

/* ---------- panel a ---------- */
const axA=axes({id:'a',box:{l:54,r:320,t:21,b:218},xd:[200,1000],yd:[0,1.6],xt:aXTicks,yt:aYTicks,yl:aYLabels,cls:'ss',fs:13,xBase:233,yRight:49,tickDir:-1});
line(aCdsX,aCdsY,axA,'#6b4c9a',1.3,'a-curve-cds',true);
line(aTioX,aTioY,axA,'#8a4b2a',1.3,'a-curve-tio2',true);
line(aCdX,aCdY,axA,'#f08a5d',1.3,'a-curve-cdsati',true);
axA.frame();

/* ---------- panel b ---------- */
const axB=axes({id:'b',box:{l:369,r:636,t:20,b:218},xd:[1,5],yd:[0,1],xt:bXTicks,yt:[],cls:'ss',fs:12.5,xBase:232,yRight:365,tickDir:-1});
line(bCdsX,bCdsY,axB,'#6b4c9a',1.3,'b-curve-cds',true);
line(bCdX,bCdY,axB,'#f08a5d',1.3,'b-curve-cdsati',true);
line(bTioX,bTioY,axB,'#8a4b2a',1.3,'b-curve-tio2',true);
dashed(bTangentCdsX,bTangentCdsY,axB,'b-tangent-cds');
dashed(bTangentTioX,bTangentTioY,axB,'b-tangent-tio2');
axB.frame();

/* ---------- panel c ---------- */
const axC=axes({id:'c',box:{l:681,r:946,t:18,b:216},xd:[0,6],yd:[0,1],xt:cXTicks,yt:[],cls:'ss',fs:12.5,xBase:231,yRight:677,tickDir:-1});
dots(cEnergy,cTio,axC,'url(#sBrown)',3.2,'c-series-tio2');
dots(cEnergy,cCds,axC,'url(#sPurple)',3.2,'c-series-cds');
dashed(cTangentTioX,cTangentTioY,axC,'c-tangent-tio2',1.2);
mk('path',{d:pathFrom(cBaselineX,cBaselineY,axC),fill:'none',stroke:'#111','stroke-width':1.1,'stroke-dasharray':'5 3'},'c-baseline-tio2');
dashed(cTangentCdsX,cTangentCdsY,axC,'c-tangent-cds',1.2);
axC.frame();

/* ---------- panel d ---------- */
const axD=axes({id:'d',box:{l:46,r:352,t:261,b:375},xd:[-1,1],yd:[0,2],xt:dXTicks,xl:dXLabels,yt:dYTicks,yl:dYLabels,cls:'ss',fs:11,xBase:387,yRight:43,tickDir:-1});
dashed(dFitX,dFit500,axD,'d-fit-500hz',.8);
dashed(dFitX,dFit1000,axD,'d-fit-1000hz',.8);
dots(dPotential,d500,axD,'url(#sPurple)',3.4,'d-series-500hz');
dots(dPotential,d1000,axD,'url(#sBlue)',3.4,'d-series-1000hz');
mk('circle',{cx:295,cy:268,r:3.4,fill:'url(#sPurple)'},'d-legend-marker-500hz');
mk('circle',{cx:295,cy:282,r:3.4,fill:'url(#sBlue)'},'d-legend-marker-1000hz');
axD.frame();

/* ---------- panel e ---------- */
const axE=axes({id:'e',box:{l:45,r:352,t:414,b:528},xd:[-.75,2],yd:[0,3.2],xt:eXTicks,xl:eXLabels,yt:eYTicks,cls:'ss',fs:11,xBase:541,yRight:41,tickDir:-1});
dashed(eFitX,eFit500,axE,'e-fit-500hz',.8);
dashed(eFitX,eFit1000,axE,'e-fit-1000hz',.8);
dots(ePotential,e500,axE,'url(#sBrown)',3.2,'e-series-500hz');
dots(ePotential,e1000,axE,'url(#sOlive)',3.2,'e-series-1000hz');
mk('circle',{cx:295,cy:422,r:3.4,fill:'url(#sBrown)'},'e-legend-marker-500hz');
mk('circle',{cx:295,cy:435,r:3.4,fill:'url(#sOlive)'},'e-legend-marker-1000hz');
axE.frame();

/* ---------- heatmaps ---------- */
const gBox={l:53,r:264,t:563,b:766};
const axG=axes({id:'g',box:gBox,xd:[450,700],yd:[.525,5900],ylog:true,xt:heatXTicks,yt:heatYTicks,yl:heatYLabels,cls:'sf',fs:13.5,xBase:784,yRight:48,tickDir:1,frame:'#10301a'});
heatmap('g',gWave,gDelay,gValues,-1.2,1.0,'clipG',axG,gBox);
axG.frame();
colorbar('g',{l:269,r:283,t:563,b:764},gBarLabels,287,[563,603,643,683,723,764]);

const hBox={l:376,r:586,t:563,b:766};
const axH=axes({id:'h',box:hBox,xd:[450,700],yd:[1,6800],ylog:true,xt:heatXTicks,yt:heatYTicks,yl:heatYLabels,cls:'sf',fs:13.5,xBase:784,yRight:372,tickDir:1,frame:'#10301a'});
heatmap('h',hWave,hDelay,hValues,-1.4,.5,'clipH',axH,hBox);
axH.frame();
colorbar('h',{l:590,r:604,t:568,b:762},hBarLabels,608,[569,607,647,686,724,762]);

const iBox={l:696,r:906,t:559,b:762};
const axI=axes({id:'i',box:iBox,xd:[450,700],yd:[.525,6800],ylog:true,xt:heatXTicks,yt:heatYTicks,yl:heatYLabels,cls:'sf',fs:13.5,xBase:780,yRight:692,tickDir:1,frame:'#10301a'});
heatmap('i',iWave,iDelay,iValues,-2,1.8,'clipI',axI,iBox);
axI.frame();
colorbar('i',{l:910,r:924,t:559,b:762},iBarLabels,927,[560,600,641,681,721,761]);

/* ---------- decays ---------- */
const axJ=axes({id:'j',box:{l:53,r:294,t:817,b:1016},xd:[.1,8300],yd:[0,1.053],xlog:true,xt:decayXTicks,xl:decayXLabels,yt:decayYTicks,yl:decayYLabels,cls:'sf',fs:13.5,xBase:1034,yRight:47,tickDir:1});
dots(jTime,jSignal,axJ,'url(#sRed)',3.4,'j-series-cds');
line(jFitTime,jFit,axJ,'#5a50a8',1.4,'j-fit-curve',true);
mk('circle',{cx:251,cy:833,r:3.6,fill:'url(#sRed)'},'j-legend-marker');
axJ.frame();

const axK=axes({id:'k',box:{l:372,r:613,t:818,b:1017},xd:[.1,6300],yd:[-.056,1.056],xlog:true,xt:decayXTicks,xl:decayXLabels,yt:decayYTicks,yl:decayYLabels,cls:'sf',fs:13.5,xBase:1034,yRight:367,tickDir:1});
dots(kTime,kSignal,axK,'url(#sIndigo)',3.2,'k-series-tio2',mk('g',{'clip-path':'url(#clipK)'},'k-series-clip'));
line(kFitTime,kFit,axK,'#f4b6e6',1.4,'k-fit-curve',true);
mk('circle',{cx:550,cy:837,r:3.6,fill:'url(#sIndigo)'},'k-legend-marker');
axK.frame();

const axL=axes({id:'l',box:{l:702,r:941,t:817,b:1015},xd:[.1,7970],yd:[0,1.053],xlog:true,xt:decayXTicks,xl:decayXLabels,yt:decayYTicks,yl:decayYLabels,cls:'sf',fs:13.5,xBase:1032,yRight:697,tickDir:1});
dots(lTime,lSignal,axL,'url(#sTeal)',3.2,'l-series-cdsati');
line(lFitTime,lFit,axL,'#d9a066',1.4,'l-fit-curve',true);
mk('circle',{cx:876,cy:829,r:3.6,fill:'url(#sTeal)'},'l-legend-marker');
axL.frame();
</script>
</body></html>
